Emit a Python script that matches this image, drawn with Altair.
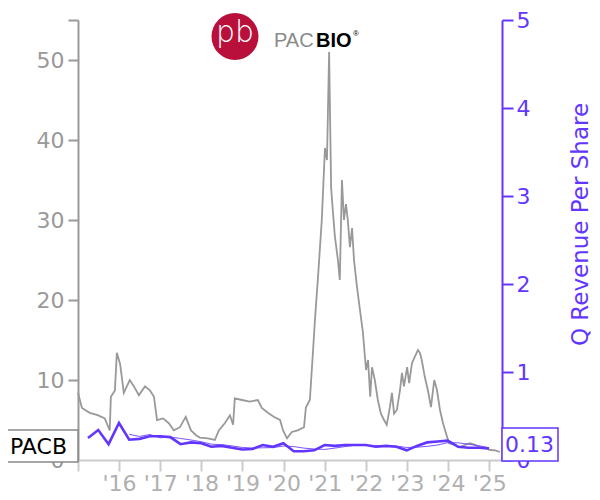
import altair as alt
import pandas as pd

# ---- data ----
price_dates = [
    "2015-01-01", "2015-02-05", "2015-04-15", "2015-06-25", "2015-08-27", "2015-10-01",
    "2015-10-10", "2015-10-20", "2015-11-25", "2015-12-12", "2016-01-10", "2016-02-12",
    "2016-04-05", "2016-05-12", "2016-06-25", "2016-08-18", "2016-10-01", "2016-11-06",
    "2016-12-03", "2017-01-25", "2017-03-18", "2017-05-01", "2017-06-25", "2017-08-15",
    "2017-10-01", "2017-11-15", "2017-12-18", "2018-03-01", "2018-05-01", "2018-06-05",
    "2018-07-28", "2018-09-12", "2018-10-10", "2018-10-25", "2018-12-28", "2019-03-06",
    "2019-05-18", "2019-06-22", "2019-08-15", "2019-10-06", "2019-12-01", "2019-12-28",
    "2020-02-01", "2020-03-15", "2020-05-06", "2020-07-01", "2020-07-18", "2020-08-22",
    "2020-09-18", "2020-10-06", "2020-11-03", "2020-12-06", "2021-01-03", "2021-01-21",
    "2021-02-09", "2021-02-27", "2021-03-15", "2021-04-01", "2021-04-28", "2021-05-15",
    "2021-06-03", "2021-06-21", "2021-07-09", "2021-07-25", "2021-08-13", "2021-09-01",
    "2021-09-18", "2021-10-15", "2021-11-10", "2021-12-06", "2022-01-03", "2022-01-21",
    "2022-02-09", "2022-02-25", "2022-03-22", "2022-04-18", "2022-05-15", "2022-06-12",
    "2022-07-06", "2022-08-03", "2022-08-21", "2022-09-09", "2022-10-04", "2022-11-01",
    "2022-11-18", "2022-12-06", "2023-01-03", "2023-01-21", "2023-02-15", "2023-03-12",
    "2023-04-09", "2023-04-27", "2023-05-13", "2023-06-09", "2023-07-06", "2023-08-03",
    "2023-09-01", "2023-09-25", "2023-10-22", "2023-11-18", "2023-12-15", "2024-01-10",
    "2024-03-03", "2024-04-15", "2024-06-01", "2024-07-15", "2024-08-28", "2024-10-12",
    "2024-11-25", "2025-01-10", "2025-02-25", "2025-04-06",
]
price_vals = [
    8.4, 6.5, 5.9, 5.6, 5.2, 4.0,
    3.7, 7.9, 8.7, 13.4, 12.0, 8.4,
    10.0, 9.2, 8.1, 9.2, 8.7, 7.9,
    5.0, 5.2, 4.6, 3.7, 4.1, 5.4,
    3.7, 3.1, 2.8, 2.7, 2.5, 3.7,
    4.6, 5.6, 4.4, 7.7, 7.5, 7.3,
    7.5, 6.5, 5.9, 5.4, 5.0, 3.7,
    2.7, 3.5, 3.7, 4.1, 6.6, 7.5,
    13.4, 17.5, 23.0, 30.0, 39.0, 37.5,
    51.0, 34.0, 31.0, 28.0, 25.0, 22.5,
    35.0, 30.0, 32.0, 30.0, 26.6, 29.0,
    25.0, 21.6, 18.75, 16.0, 11.25, 12.5,
    7.9, 11.6, 10.0, 7.5, 5.8, 5.0,
    4.4, 6.6, 8.4, 5.8, 6.25, 8.75,
    10.9, 9.2, 11.6, 9.6, 12.1, 12.9,
    13.75, 13.4, 12.5, 10.4, 8.75, 6.6,
    10.0, 8.75, 6.25, 4.6, 3.3, 2.1,
    1.9, 1.6, 1.9, 2.1, 1.9, 1.6,
    1.5, 1.25, 1.2, 1.0,
]

rev_quarters = [
    "2015-03-31", "2015-06-30", "2015-09-30", "2015-12-31",
    "2016-03-31", "2016-06-30", "2016-09-30", "2016-12-31",
    "2017-03-31", "2017-06-30", "2017-09-30", "2017-12-31",
    "2018-03-31", "2018-06-30", "2018-09-30", "2018-12-31",
    "2019-03-31", "2019-06-30", "2019-09-30", "2019-12-31",
    "2020-03-31", "2020-06-30", "2020-09-30", "2020-12-31",
    "2021-03-31", "2021-06-30", "2021-09-30", "2021-12-31",
    "2022-03-31", "2022-06-30", "2022-09-30", "2022-12-31",
    "2023-03-31", "2023-06-30", "2023-09-30", "2023-12-31",
    "2024-03-31", "2024-06-30", "2024-09-30", "2024-12-31",
]
rev_vals = [
    0.25, 0.34, 0.18, 0.42,
    0.23, 0.24, 0.27, 0.27,
    0.26, 0.18, 0.20, 0.19,
    0.15, 0.16, 0.14, 0.12,
    0.125, 0.17, 0.15, 0.19,
    0.10, 0.10, 0.11, 0.17,
    0.16, 0.17, 0.17, 0.17,
    0.15, 0.16, 0.15, 0.11,
    0.16, 0.20, 0.21, 0.22,
    0.15, 0.14, 0.14, 0.13,
]

ticker = "PACB"
y_title = "Q Revenue Per Share"
year_ticks = list(range(2015, 2026))

price_df = pd.DataFrame({"date": price_dates, "price": price_vals})
rev_df = pd.DataFrame({"date": rev_quarters, "rev": rev_vals})
one = pd.DataFrame({"k": [0]})

GRAY = "#999999"
PURPLE = "#6236ff"
FONT = "DejaVu Sans"

x_scale = alt.Scale(
    type="utc",
    domain=[alt.DateTime(year=2015, month=1, date=1, utc=True),
            alt.DateTime(year=2025, month=4, date=25, utc=True)],
)
x_axis = alt.Axis(
    values=[alt.DateTime(year=y, month=1, date=1, utc=True) for y in year_ticks],
    labelExpr="utcFormat(datum.value, '%Y') == '2015' ? '' : \"'\" + utcFormat(datum.value, '%y')",
    grid=False, title=None, domainColor="#cccccc", tickColor="#cccccc",
    domainWidth=2, tickWidth=2, tickSize=11, labelColor="#b0b0b0",
    labelFontSize=22, labelFont=FONT, labelPadding=2, labelFlush=False,
)

price_line = alt.Chart(price_df).mark_line(color=GRAY, strokeWidth=1.8).encode(
    x=alt.X("date:T", scale=x_scale, axis=x_axis),
    y=alt.Y("price:Q", scale=alt.Scale(domain=[0, 55], nice=False, zero=True),
            axis=alt.Axis(orient="left", values=[0, 10, 20, 30, 40, 50, 55],
                          labelExpr="datum.value == 55 ? '' : datum.label",
                          grid=False, title=None, domainColor=GRAY, tickColor=GRAY,
                          domainWidth=2, tickWidth=2, tickSize=10,
                          labelColor=GRAY, labelFontSize=22, labelFont=FONT,
                          labelPadding=4)),
)

rev_axis = alt.Axis(orient="right", values=[0, 1, 2, 3, 4, 5], format="d", grid=False,
                    title=y_title, titleColor=PURPLE, titleFontSize=23,
                    titleFont=FONT, titleFontWeight="normal",
                    titleAngle=270, titleX=78, titleY=204, titleAlign="center",
                    titleBaseline="middle",
                    domainColor=PURPLE, tickColor=PURPLE, domainWidth=2, tickWidth=2,
                    tickSize=11, labelColor=PURPLE, labelFontSize=22, labelFont=FONT,
                    labelPadding=3)

rev_thick = alt.Chart(rev_df).mark_line(color=PURPLE, strokeWidth=2.6).encode(
    x=alt.X("date:T", scale=x_scale, axis=x_axis),
    y=alt.Y("rev:Q", scale=alt.Scale(domain=[0, 5], nice=False), axis=rev_axis),
)
rev_thin = alt.Chart(rev_df).transform_window(
    ttm="mean(rev)", idx="row_number()", frame=[-3, 0]
).transform_filter("datum.idx >= 5").mark_line(color=PURPLE, strokeWidth=1, opacity=0.85).encode(
    x=alt.X("date:T", scale=x_scale, axis=x_axis),
    y=alt.Y("ttm:Q", title=y_title),
)

rev_layer = alt.layer(rev_thick, rev_thin)

# ---- annotations ----
ann = alt.Chart(one)
pacb_box = ann.mark_rect(fill="white", stroke="#888888", strokeWidth=1.5).encode(
    x=alt.value(-80), x2=alt.value(0), y=alt.value(410), y2=alt.value(442))
pacb_txt = ann.mark_text(text=ticker, font=FONT, fontSize=22, color="black",
                         align="left", baseline="middle").encode(
    x=alt.value(-68), y=alt.value(427))
val_box = ann.mark_rect(fill="white", stroke=PURPLE, strokeWidth=1.5).encode(
    x=alt.value(424), x2=alt.value(480), y=alt.value(408), y2=alt.value(441))
val_txt = ann.mark_text(text=f"{rev_vals[-1]:.2f}", font=FONT, fontSize=22, color=PURPLE,
                        align="left", baseline="middle").encode(
    x=alt.value(427), y=alt.value(425))

logo_circle = ann.mark_point(shape="circle", filled=True, color="#b8103b", size=2209,
                             opacity=1).encode(x=alt.value(157), y=alt.value(16.5))
logo_pb = ann.mark_text(text="pb", font=FONT, fontSize=30, color="white",
                        align="center", baseline="middle", fontWeight=300).encode(
    x=alt.value(157), y=alt.value(13))
logo_pac = ann.mark_text(text="PAC", font="Liberation Sans", fontSize=20, color="#8a8a8a",
                         align="left", baseline="alphabetic").encode(
    x=alt.value(196), y=alt.value(27))
logo_bio = ann.mark_text(text="BIO", font="Liberation Sans", fontSize=20, color="black",
                         fontWeight="bold", align="left", baseline="alphabetic").encode(
    x=alt.value(238), y=alt.value(27))
logo_r = ann.mark_text(text="®", font="Liberation Sans", fontSize=8, color="black",
                       align="left", baseline="middle").encode(
    x=alt.value(275), y=alt.value(14))

chart = alt.layer(
    price_line, rev_layer,
    pacb_box, pacb_txt, val_box, val_txt,
    logo_circle, logo_pb, logo_pac, logo_bio, logo_r,
).resolve_scale(y="independent").properties(
    width=424, height=440,
    autosize=alt.AutoSizeParams(type="none"),
    padding={"left": 70, "top": 12, "right": 90, "bottom": 40},
).configure_view(stroke=None)

chart.save("out.html", embed_options={"renderer": "svg", "actions": False})
